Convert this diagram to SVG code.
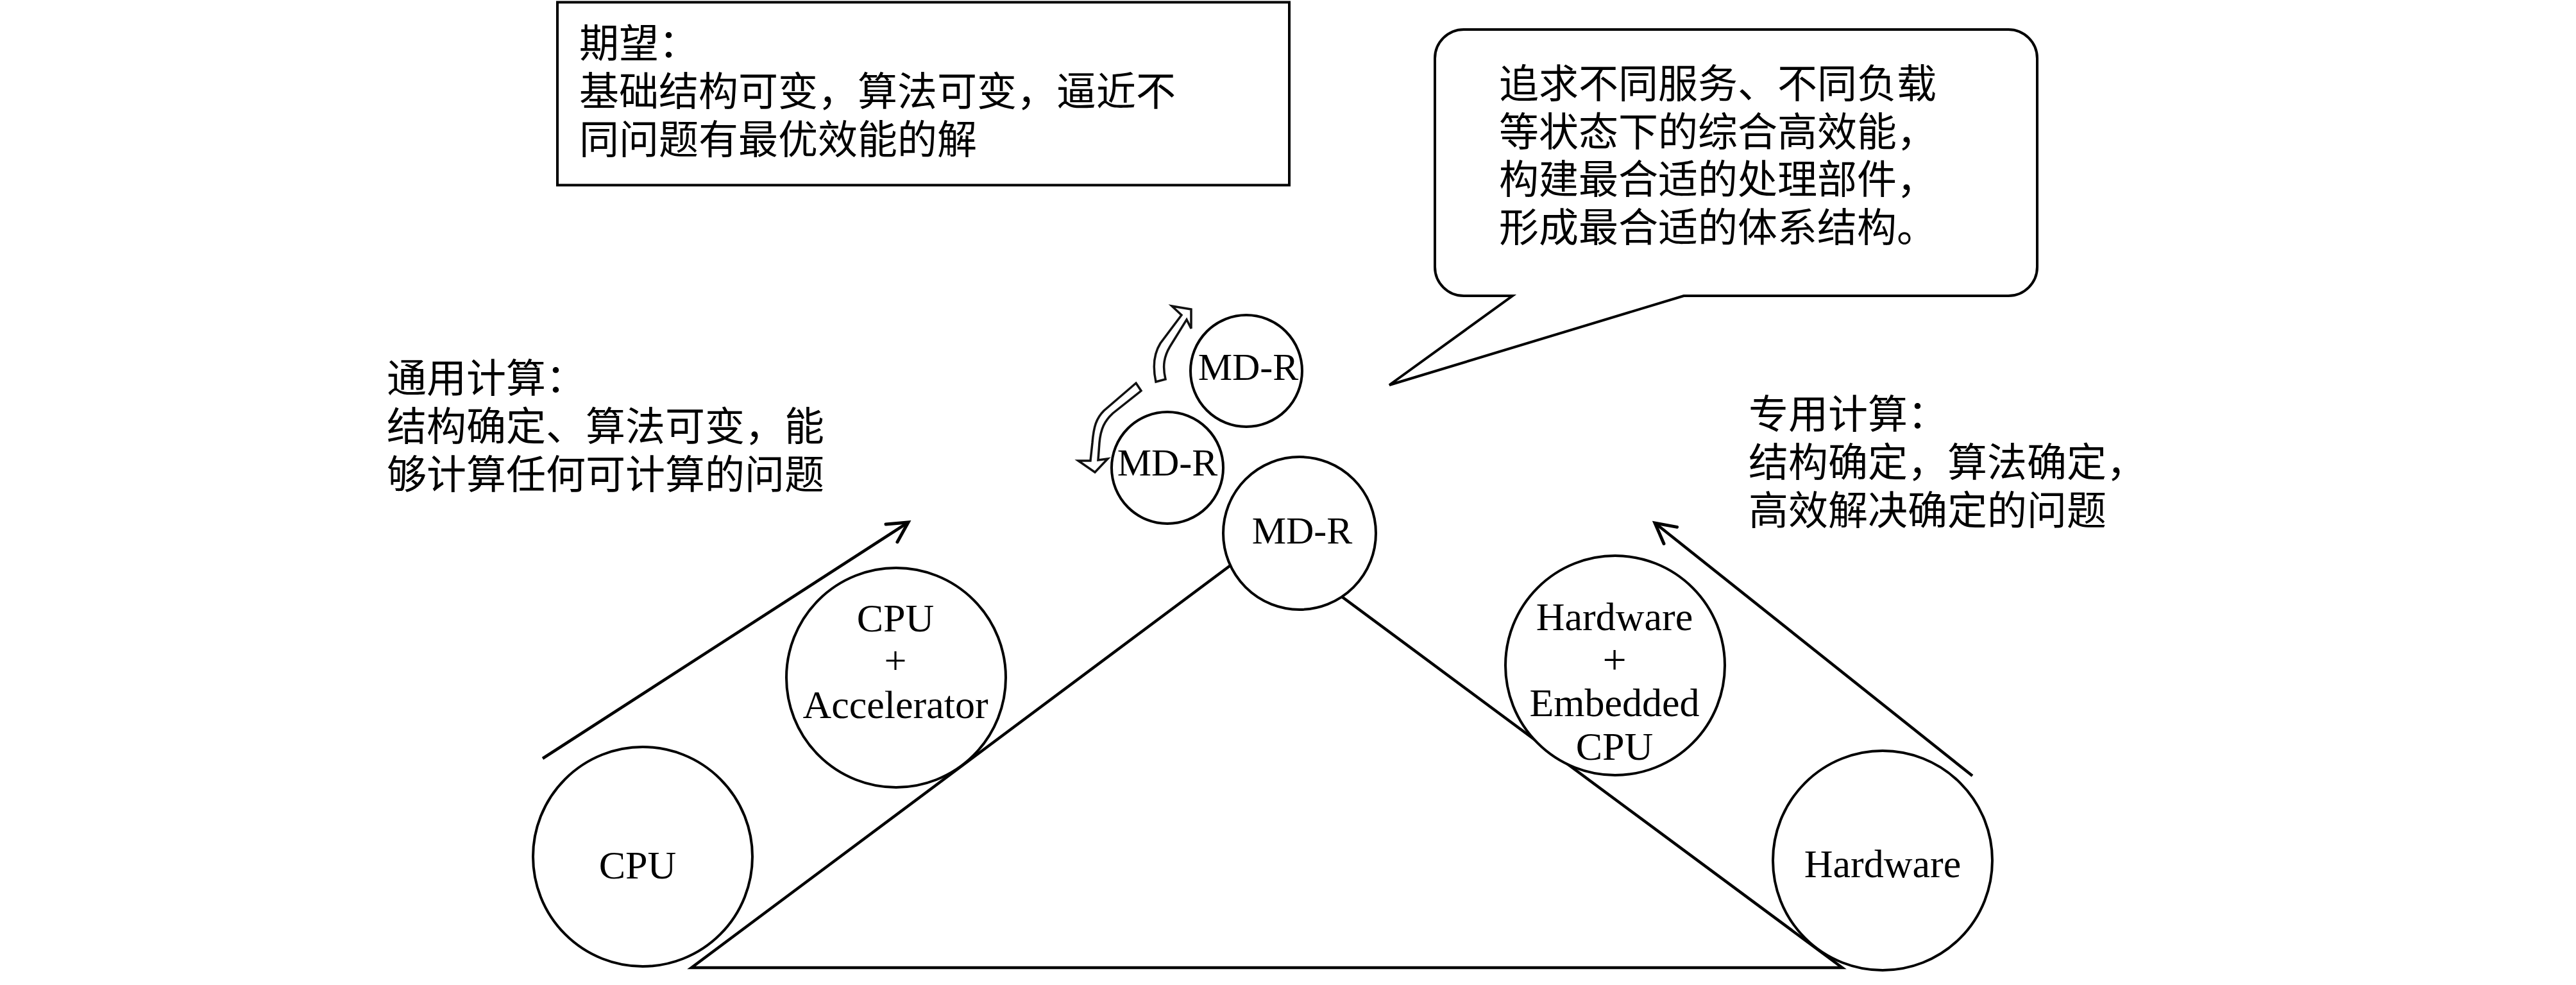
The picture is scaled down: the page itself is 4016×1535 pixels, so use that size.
<svg xmlns="http://www.w3.org/2000/svg" width="4016" height="1535" viewBox="0 0 4016 1535">
<style>
.txt{font-family:"Liberation Serif","Noto Sans CJK SC",serif;font-size:62px;fill:#000}
.lbl{font-family:"Liberation Serif","Noto Sans CJK SC",serif;font-size:62px;fill:#000;text-anchor:middle}
.mdr{font-size:60px}
.node{fill:#fff;stroke:#000;stroke-width:4}
.line{fill:none;stroke:#000;stroke-width:4.5}
.block{fill:#fff;stroke:#111;stroke-width:3.5;stroke-linejoin:miter}
</style>
<defs>
<marker id="open" markerUnits="userSpaceOnUse" viewBox="-45 -25 55 50" refX="0" refY="0" markerWidth="55" markerHeight="50" orient="auto">
<path d="M-31,-16.5 L0,0 L-31,16.5" fill="none" stroke="#000" stroke-width="5" stroke-linecap="round"/>
</marker>
</defs>
<rect width="4016" height="1535" fill="#fff"/>

<g id="triangle">
<path class="line" d="M1078,1508 L1972,841 L2872,1508 Z" stroke-linejoin="miter"/>
</g>

<g id="connectors">
<line class="line" x1="846" y1="1182" x2="1416" y2="814" marker-end="url(#open)"/>
<line class="line" x1="3075" y1="1209" x2="2580" y2="815" marker-end="url(#open)"/>
<path class="block" d="M1802,595 C1797,572 1799,551 1809,535 L1842,491 L1827,477 L1857,482 L1857,512 L1850,498 L1824,540 C1815,555 1812,570 1817,591 Z"/>
<path class="block" d="M1771,597 L1779,609 L1735,644 C1722,656 1716,668 1714,690 L1712,717 L1727,715 L1707,736 L1681,718 L1700,718 L1703,690 C1705,665 1709,652 1721,640 Z"/>
</g>

<g id="expect-box">
<rect x="869" y="3.5" width="1141" height="285" fill="#fff" stroke="#000" stroke-width="4"/>
<text class="txt"><tspan x="903" y="90">期望：</tspan><tspan x="903" y="165">基础结构可变，算法可变，逼近不</tspan><tspan x="903" y="240">同问题有最优效能的解</tspan></text>
</g>

<g id="bubble">
<path d="M2282,46 H3131 A45,45 0 0 1 3176,91 V416 A45,45 0 0 1 3131,461 H2625 L2166,600 L2358,461 H2282 A45,45 0 0 1 2237,416 V91 A45,45 0 0 1 2282,46 Z" fill="#fff" stroke="#000" stroke-width="4" stroke-linejoin="miter"/>
<text class="txt"><tspan x="2337" y="153">追求不同服务、不同负载</tspan><tspan x="2337" y="228">等状态下的综合高效能，</tspan><tspan x="2337" y="302">构建最合适的处理部件，</tspan><tspan x="2337" y="377">形成最合适的体系结构。</tspan></text>
</g>

<g id="general-label">
<text class="txt"><tspan x="603" y="612">通用计算：</tspan><tspan x="603" y="687">结构确定、算法可变，能</tspan><tspan x="603" y="762">够计算任何可计算的问题</tspan></text>
</g>

<g id="special-label">
<text class="txt"><tspan x="2726" y="668">专用计算：</tspan><tspan x="2726" y="743">结构确定，算法确定，</tspan><tspan x="2726" y="818">高效解决确定的问题</tspan></text>
</g>

<g id="node-cpu">
<circle class="node" cx="1002" cy="1335" r="171"/>
<text class="lbl" x="994" y="1369">CPU</text>
</g>

<g id="node-cpu-acc">
<circle class="node" cx="1397" cy="1056" r="171"/>
<text class="lbl" x="1396" y="984">CPU</text>
<text class="lbl" x="1396" y="1050">+</text>
<text class="lbl" x="1396" y="1119">Accelerator</text>
</g>

<g id="node-mdr-main">
<circle class="node" cx="2026" cy="831" r="119"/>
<text class="lbl mdr" x="2030" y="847">MD-R</text>
</g>

<g id="node-mdr-upper">
<circle class="node" cx="1943" cy="578" r="87"/>
<text class="lbl mdr" x="1946" y="592">MD-R</text>
</g>

<g id="node-mdr-lower">
<circle class="node" cx="1820" cy="729" r="87"/>
<text class="lbl mdr" x="1820" y="741">MD-R</text>
</g>

<g id="node-hw-ecpu">
<circle class="node" cx="2518" cy="1037" r="171"/>
<text class="lbl" x="2517" y="982">Hardware</text>
<text class="lbl" x="2517" y="1050" style="font-size:66px">+</text>
<text class="lbl" x="2517" y="1116">Embedded</text>
<text class="lbl" x="2517" y="1184">CPU</text>
</g>

<g id="node-hw">
<circle class="node" cx="2935" cy="1341" r="171"/>
<text class="lbl" x="2935" y="1367">Hardware</text>
</g>
</svg>
